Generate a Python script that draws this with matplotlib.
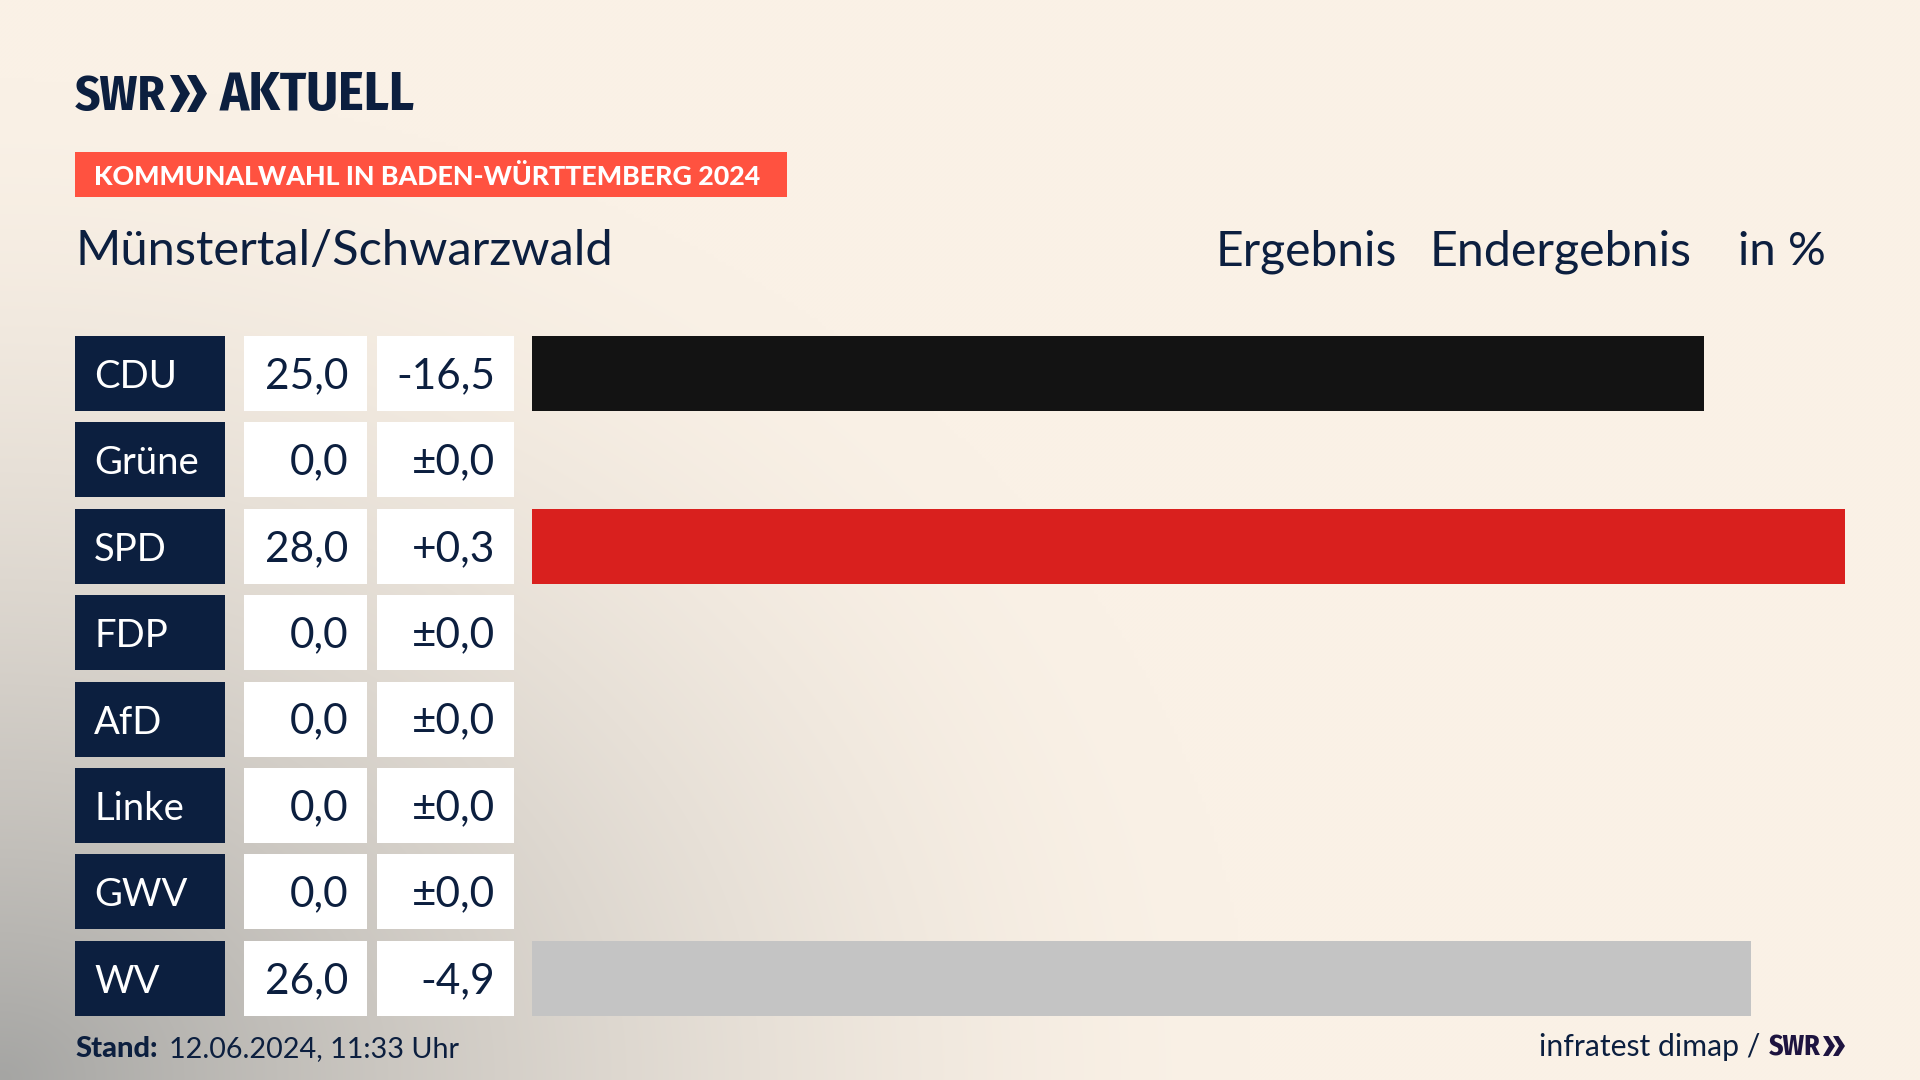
#!/usr/bin/python3
import numpy as np
import matplotlib
matplotlib.use('Agg')
import matplotlib.pyplot as plt
from matplotlib.patches import Rectangle, Polygon

parties = ['CDU', 'Grüne', 'SPD', 'FDP', 'AfD', 'Linke', 'GWV', 'WV']
results = [25.0, 0.0, 28.0, 0.0, 0.0, 0.0, 0.0, 26.0]
diffs = ['-16,5', '±0,0', '+0,3', '±0,0', '±0,0', '±0,0', '±0,0', '-4,9']
bar_colors = ['#131313', '#131313', '#D9201E', '#131313', '#131313', '#131313', '#131313', '#C4C4C4']

NAVY = '#0C1F3F'
PURPLE = '#1E1440'
FONT = ['Lato', 'DejaVu Sans']
NARROW = ['Fira Sans Condensed', 'Lato', 'DejaVu Sans']

W, H = 1920, 1080
fig = plt.figure(figsize=(19.2, 10.8), dpi=100)

# background, cream with a grey corner bottom left
axbg = fig.add_axes([0, 0, 1, 1], zorder=0)
xx, yy = np.meshgrid(np.linspace(0, W, 480), np.linspace(0, H, 270))
d = np.sqrt((xx/1250.0)**2 + ((H-yy)/1000.0)**2)
t = np.clip(1-d, 0, 1)**1.6
cream = np.array([250, 241, 230])/255.0
grey = np.array([165, 165, 163])/255.0
img = cream[None, None, :]*(1-t[..., None]) + grey[None, None, :]*t[..., None]
axbg.imshow(img, extent=[0, W, H, 0], aspect='auto', interpolation='bilinear')
axbg.axis('off')

# bars
row0 = 336.0
step = 86.4
rowh = 75.0
ax = fig.add_axes([532.0/W, 1-(row0+7*step+rowh)/H, (1845.0-532.0)/W, (7*step+rowh)/H], zorder=1)
ax.barh(range(len(parties)), results, height=rowh/step, color=bar_colors)
ax.set_xlim(0, 28)
ax.set_ylim(7+rowh/step/2, -rowh/step/2)
ax.axis('off')

# overlay in pixel coords for the table and text
ov = fig.add_axes([0, 0, 1, 1], zorder=2)
ov.set_xlim(0, W)
ov.set_ylim(H, 0)
ov.axis('off')

for i in range(len(parties)):
    top = row0 + i*step
    ov.add_patch(Rectangle((75, top), 150, rowh, color=NAVY, lw=0))
    ov.add_patch(Rectangle((244, top), 123, rowh, color='white', lw=0))
    ov.add_patch(Rectangle((377, top), 137, rowh, color='white', lw=0))
    base = top + rowh/2 + 14.5
    ov.text(94, base, parties[i], color='white', fontsize=27.5, family=FONT, va='baseline')
    ov.text(348, base, ('%.1f' % results[i]).replace('.', ','), color=NAVY, fontsize=30.5, family=FONT, ha='right', va='baseline')
    ov.text(495, base, diffs[i], color=NAVY, fontsize=30.5, family=FONT, ha='right', va='baseline')

# logo
def chevrons(x, y0, y1, w, gap, col):
    for k in range(2):
        xk = x + k*gap
        ym = (y0+y1)/2.0
        ov.add_patch(Polygon([(xk, y0), (xk+w*0.45, y0), (xk+w, ym), (xk+w*0.45, y1), (xk, y1), (xk+w*0.5, ym)], closed=True, color=col, lw=0))

def fit_text(x, y, s, width, size, col):
    # shrink if the narrow family is missing
    t = ov.text(x, y, s, color=col, fontsize=size, family=NARROW, weight='bold', va='baseline')
    ext = t.get_window_extent(fig.canvas.get_renderer())
    if ext.width > width:
        t.set_fontsize(size*width/ext.width)
    return t

fit_text(75, 110, 'SWR', 91, 36.5, NAVY)
chevrons(170, 75, 112, 20, 17, NAVY)
fit_text(220, 110, 'AKTUELL', 195, 39, NAVY)

# banner
ov.add_patch(Rectangle((75, 152), 712, 45, color='#FF5240', lw=0))
ov.text(94, 185, 'KOMMUNALWAHL IN BADEN-WÜRTTEMBERG 2024', color='white', fontsize=19.3, family=FONT, weight='black', va='baseline')

# header line
ov.text(75, 265, 'Münstertal/Schwarzwald', color=NAVY, fontsize=35.1, family=FONT, va='baseline')
ov.text(1216, 265, 'Ergebnis', color=NAVY, fontsize=34.6, family=FONT, va='baseline')
ov.text(1430, 265, 'Endergebnis', color=NAVY, fontsize=34.8, family=FONT, va='baseline')
ov.text(1738, 265, 'in %', color=NAVY, fontsize=34, family=FONT, va='baseline')

# footer
ov.text(75, 1057, 'Stand:', color=NAVY, fontsize=21, family=FONT, weight='black', va='baseline')
ov.text(169, 1057, '12.06.2024, 11:33 Uhr', color=NAVY, fontsize=20.7, family=FONT, va='baseline')
ov.text(1539, 1056, 'infratest dimap /', color=NAVY, fontsize=21.7, family=FONT, va='baseline')
fit_text(1769, 1056, 'SWR', 52, 23, PURPLE)
chevrons(1823, 1036, 1056, 12, 10, PURPLE)

fig.savefig('out.png', dpi=100)
